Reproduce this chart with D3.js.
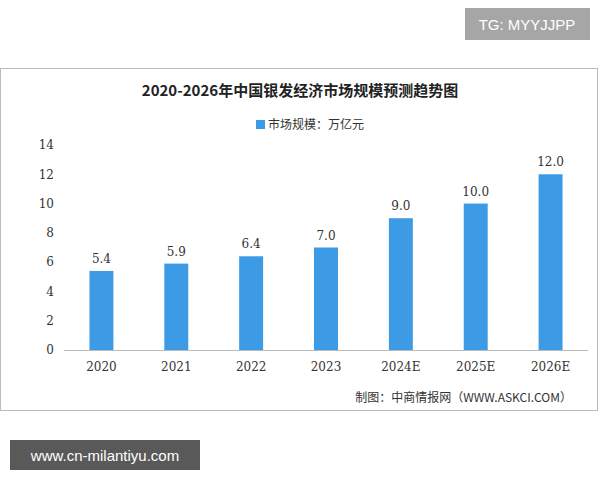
<!DOCTYPE html>
<html><head><meta charset="utf-8">
<script src="https://cdn.jsdelivr.net/npm/d3@7"></script>
<style>body{margin:0;background:#fff}</style>
</head><body><div id="mainDiv"></div>
<script>
'use strict';
var years = ['2020', '2021', '2022', '2023', '2024E', '2025E', '2026E'];
var values = [5.4, 5.9, 6.4, 7.0, 9.0, 10.0, 12.0];
var yTicks = [0, 2, 4, 6, 8, 10, 12, 14];

var svg = d3.select('#mainDiv').append('svg').attr('width', 600).attr('height', 480);
var cn = '"Noto Sans CJK SC", sans-serif';
var serif = '"DejaVu Serif", serif';

// top tag
svg.append('rect').attr('x', 465).attr('y', 8).attr('width', 125).attr('height', 32).attr('fill', '#a6a6a6');
svg.append('text').attr('x', 527).attr('y', 30).attr('text-anchor', 'middle').attr('fill', '#fff')
  .attr('font-family', 'Liberation Sans, sans-serif').attr('font-size', 15).text('TG: MYYJJPP');

// frame
svg.append('rect').attr('x', 0.5).attr('y', 68.5).attr('width', 597).attr('height', 342)
  .attr('fill', '#fff').attr('stroke', '#bbb');

svg.append('text').attr('x', 300).attr('y', 96).attr('text-anchor', 'middle').attr('font-family', cn)
  .attr('font-weight', 'bold').attr('font-size', 15).attr('fill', '#222').text('2020-2026年中国银发经济市场规模预测趋势图');

svg.append('rect').attr('x', 256).attr('y', 120).attr('width', 9).attr('height', 9).attr('fill', '#3d9ae5');
svg.append('text').attr('x', 268).attr('y', 129).attr('font-family', cn).attr('font-size', 12).attr('fill', '#333').text('市场规模：万亿元');

var x = d3.scaleBand().domain(years).range([64, 588]).paddingInner(0.68).paddingOuter(0.34);
var y = d3.scaleLinear().domain([0, 14]).range([350, 145]);

var ax = svg.append('g').attr('transform', 'translate(64,0)')
  .call(d3.axisLeft(y).tickValues(yTicks).tickSize(0).tickPadding(10));
ax.select('.domain').remove();
ax.selectAll('text').attr('font-family', serif).attr('font-size', 12).attr('fill', '#333');

svg.append('line').attr('x1', 64).attr('x2', 588).attr('y1', 350.5).attr('y2', 350.5).attr('stroke', '#bbb');

var xa = svg.append('g').attr('transform', 'translate(0,350)')
  .call(d3.axisBottom(x).tickSize(0).tickPadding(12));
xa.select('.domain').remove();
xa.selectAll('text').attr('font-family', serif).attr('font-size', 12).attr('fill', '#333');

svg.selectAll('.bar').data(values).enter().append('rect')
  .attr('x', function(d, i){ return x(years[i]); })
  .attr('width', x.bandwidth())
  .attr('y', function(d){ return y(d); })
  .attr('height', function(d){ return 350 - y(d); })
  .attr('fill', '#3d9ae5');

svg.selectAll('.lbl').data(values).enter().append('text')
  .attr('x', function(d, i){ return x(years[i]) + x.bandwidth() / 2; })
  .attr('y', function(d){ return y(d) - 8; })
  .attr('text-anchor', 'middle').attr('font-family', serif).attr('font-size', 12).attr('fill', '#333')
  .text(function(d){ return d.toFixed(1); });

svg.append('text').attr('x', 572).attr('y', 402).attr('text-anchor', 'end').attr('font-family', cn)
  .attr('font-size', 12).attr('fill', '#333').text('制图：中商情报网（WWW.ASKCI.COM）');

svg.append('rect').attr('x', 10).attr('y', 440).attr('width', 190).attr('height', 30).attr('fill', '#595959');
svg.append('text').attr('x', 105).attr('y', 461).attr('text-anchor', 'middle').attr('fill', '#fff')
  .attr('font-family', 'Liberation Sans, sans-serif').attr('font-size', 15).text('www.cn-milantiyu.com');
</script></body></html>
